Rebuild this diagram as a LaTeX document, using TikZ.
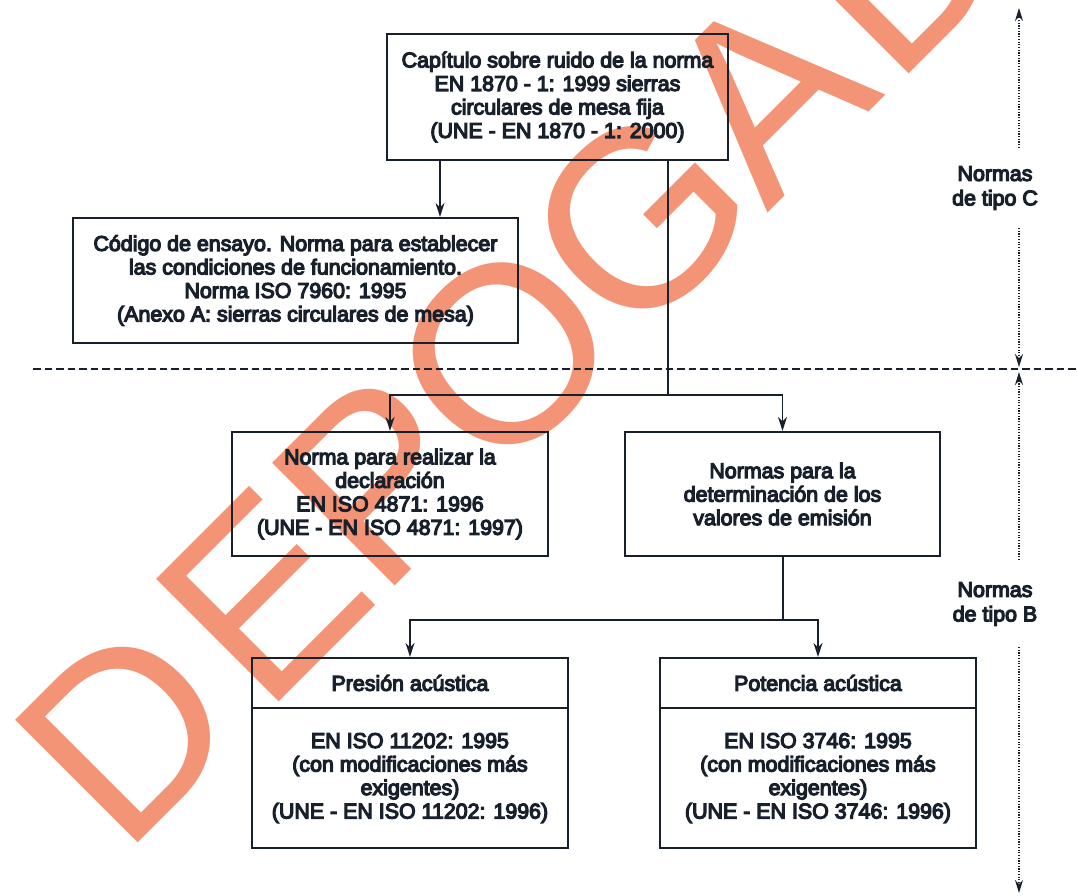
\documentclass[tikz,border=0pt]{standalone}
\usepackage{fontspec}
\setmainfont{Liberation Sans}[FakeBold=5.5]
\newfontfamily\wmfont{Liberation Sans}
\usetikzlibrary{arrows.meta}
\definecolor{ink}{RGB}{24,32,44}
\definecolor{wm}{RGB}{244,148,118}
\begin{document}
\begin{tikzpicture}[x=1pt,y=-1pt,
  box/.style={draw=ink, line width=2.2pt, text=ink, align=center, inner sep=0pt, font=\fontsize{21.4}{23.5}\selectfont},
  conn/.style={draw=ink, line width=1.6pt},
  arr/.style={conn, -{Stealth[length=14pt,width=9pt]}},
  lab/.style={text=ink, align=center, font=\fontsize{21.4}{24.5}\selectfont},
  dotl/.style={draw=ink, line width=1.5pt, dash pattern=on 1.2pt off 1.5pt},
  dotarr/.style={dotl, -{Stealth[length=13pt,width=8pt]}},
  sepline/.style={draw=ink, line width=2.8pt, dash pattern=on 7.5pt off 4pt},
  wmletter/.style={rotate=45, anchor=base west, inner sep=0pt, text=wm, font=\wmfont\fontsize{252}{252}\selectfont}]
\useasboundingbox[fill=white] (0,0) rectangle (1077,895);
\begin{scope}
\clip (0,0) rectangle (1077,895);
\node[wmletter] (w1) at (123,858) {D};
\node[wmletter] (w2) at (264,717) {E};
\node[wmletter] (w3) at (380,601) {P};
\node[wmletter] (w4) at (496,485) {O};
\node[wmletter] (w5) at (631,350) {G};
\node[wmletter] (w6) at (767,214) {A};
\node[wmletter] (w7) at (894,89) {D};
\end{scope}
% boxes
\node[box, minimum width=341pt, minimum height=126pt] (top) at (557.5,97)
  {Capítulo sobre ruido de la norma\\EN 1870 - 1: 1999 sierras\\circulares de mesa fija\\(UNE - EN 1870 - 1: 2000)};
\node[box, minimum width=445pt, minimum height=125pt] (code) at (295.5,280.5)
  {Código de ensayo. Norma para establecer\\las condiciones de funcionamiento.\\Norma ISO 7960: 1995\\(Anexo A: sierras circulares de mesa)};
\node[box, minimum width=316pt, minimum height=124pt] (decl) at (390,494)
  {Norma para realizar la\\declaración\\EN ISO 4871: 1996\\(UNE - EN ISO 4871: 1997)};
\node[box, minimum width=315pt, minimum height=124pt] (det) at (782.5,494)
  {Normas para la\\determinación de los\\valores de emisión};
\node[box, minimum width=316pt, minimum height=50pt] (presT) at (410,683) {Presión acústica};
\node[box, minimum width=316pt, minimum height=140pt] (presB) at (410,778)
  {EN ISO 11202: 1995\\(con modificaciones más\\exigentes)\\(UNE - EN ISO 11202: 1996)};
\node[box, minimum width=316pt, minimum height=50pt] (potT) at (818,683) {Potencia acústica};
\node[box, minimum width=316pt, minimum height=140pt] (potB) at (818,778)
  {EN ISO 3746: 1995\\(con modificaciones más\\exigentes)\\(UNE - EN ISO 3746: 1996)};
% connectors
\coordinate (a1) at (440,0);
\draw[arr] (top.south -| a1) -- (code.north -| a1);
\coordinate (j1) at (668,395);
\draw[conn] (top.south -| j1) -- (j1);
\draw[arr] (j1) -| (decl.north);
\draw[arr] (j1) -| (det.north);
\coordinate (j2) at (783,620);
\draw[conn] (det.south -| j2) -- (j2);
\draw[arr] (j2) -| (presT.north);
\draw[arr] (j2) -| (potT.north);
% separator
\coordinate (dL) at (33,369);
\coordinate (dR) at (1077,369);
\draw[sepline] (dL) -- (dR);
% right labels
\node[lab] (labC) at (995,188) {Normas\\de tipo C};
\node[lab] (labB) at (995,604) {Normas\\de tipo B};
\coordinate (cT) at (1019,8);
\coordinate (c1) at (1019,148);
\coordinate (c2) at (1019,228);
\coordinate (cM1) at (1019,367);
\coordinate (cM2) at (1019,372);
\coordinate (b1) at (1019,560);
\coordinate (b2) at (1019,647);
\coordinate (bB) at (1019,893);
\draw[dotarr] (c1) -- (cT);
\draw[dotarr] (c2) -- (cM1);
\draw[dotarr] (b1) -- (cM2);
\draw[dotarr] (b2) -- (bB);
\end{tikzpicture}
\end{document}
